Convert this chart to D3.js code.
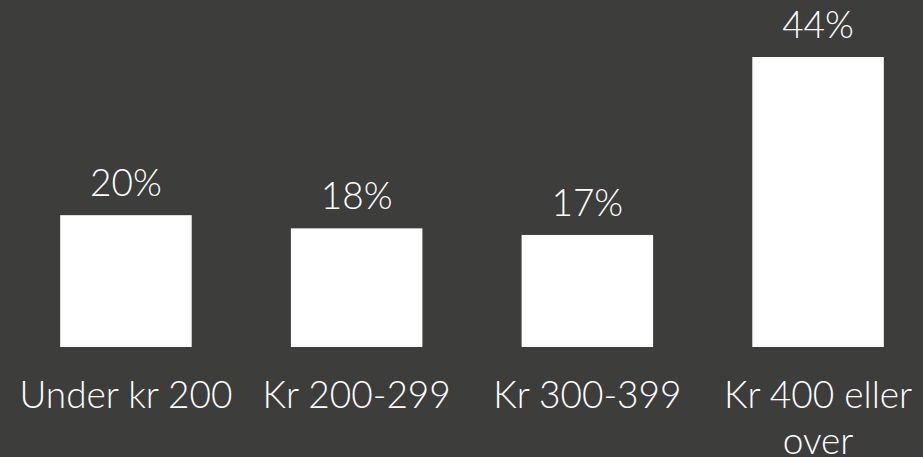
<!DOCTYPE html>
<html>
<head>
<meta charset="utf-8">
<script src="https://cdn.jsdelivr.net/npm/d3@7/dist/d3.min.js"></script>
<style>
  html, body { margin: 0; padding: 0; background: #3d3d3b; }
  svg { display: block; }
  text { font-family: Lato, "Open Sans", sans-serif; font-weight: 300; fill: #ffffff; }
</style>
</head>
<body>
<svg id="chart" width="923" height="457"></svg>
<script>
// Price bands and the share of answers in each
const categories = ["Under kr 200", "Kr 200-299", "Kr 300-399", "Kr 400 eller over"];
const shares = [20, 18, 17, 44];
const shareLabels = ["20%", "18%", "17%", "44%"];

const width = 923, height = 457;
const baseline = 347;

const svg = d3.select("#chart");

const x = d3.scaleBand()
  .domain(categories)
  .range([10.6, 933.4])
  .paddingInner(0.43)
  .paddingOuter(0.215);

const y = d3.scaleLinear()
  .domain([0, 44])
  .range([baseline, 57]);

const data = categories.map((c, i) => ({ cat: c, value: shares[i], label: shareLabels[i] }));

// Bars
svg.append("g")
  .selectAll("rect")
  .data(data)
  .join("rect")
  .attr("x", d => x(d.cat))
  .attr("y", d => y(d.value))
  .attr("width", x.bandwidth())
  .attr("height", d => y(0) - y(d.value))
  .attr("fill", "#ffffff");

// Value labels above the bars
svg.append("g")
  .selectAll("text")
  .data(data)
  .join("text")
  .attr("x", d => x(d.cat) + x.bandwidth() / 2)
  .attr("y", d => y(d.value) - 19)
  .attr("text-anchor", "middle")
  .style("font-size", "37px")
  .text(d => d.label);

// Category axis (no line or ticks), labels wrapped to the band step
const axis = svg.append("g")
  .attr("transform", `translate(0,${baseline})`)
  .call(d3.axisBottom(x).tickSize(0).tickPadding(0));
axis.select(".domain").remove();
axis.selectAll("text")
  .attr("y", 61)
  .attr("dy", 0)
  .style("font-size", "37px")
  .style("font-family", "Lato, 'Open Sans', sans-serif")
  .style("font-weight", 300)
  .attr("fill", "#ffffff")
  .call(wrap, x.step() - 6);

function wrap(sel, maxWidth) {
  sel.each(function () {
    const t = d3.select(this);
    const words = t.text().split(/\s+/);
    const yy = +t.attr("y");
    t.text(null);
    let line = [];
    let lineNo = 0;
    let tspan = t.append("tspan").attr("x", 0).attr("y", yy);
    words.forEach(w => {
      line.push(w);
      tspan.text(line.join(" "));
      if (tspan.node().getComputedTextLength() > maxWidth && line.length > 1) {
        line.pop();
        tspan.text(line.join(" "));
        line = [w];
        lineNo++;
        tspan = t.append("tspan").attr("x", 0).attr("y", yy + lineNo * 46).text(w);
      }
    });
  });
}
</script>
</body>
</html>
